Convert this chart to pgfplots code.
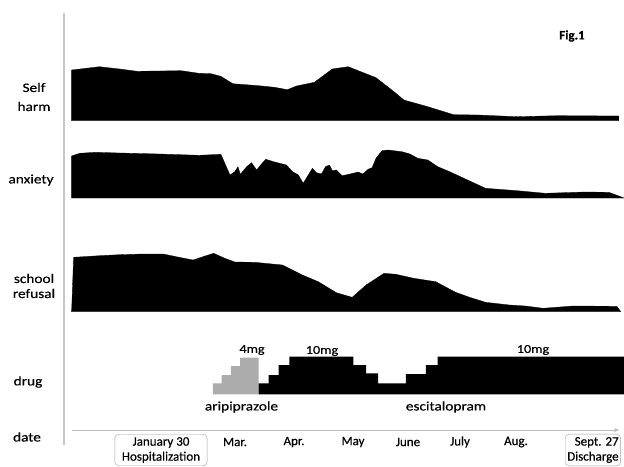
\documentclass[border=0pt]{standalone}
\usepackage{pgfplots}
\pgfplotsset{compat=1.18}
\usepackage{fontspec}
\setmainfont{Carlito}[FakeBold=0.4]
\newfontfamily\wide{Carlito}[FakeStretch=1.18, FakeBold=0.4]
\usetikzlibrary{arrows.meta}
\begin{document}
\fontsize{13}{16}\selectfont
\begin{tikzpicture}
\clip (0,0) rectangle (624pt,466pt);
\begin{axis}[
  width=624pt, height=466pt, scale only axis,
  xmin=0, xmax=624, ymin=0, ymax=466, y dir=reverse,
  axis lines=none, clip=false,
]
% vertical gray line
\addplot[gray!45, line width=1.6pt] coordinates {(64,13) (64,445)};
% self harm
\addplot[fill=black, draw=black, line width=0.3pt] coordinates {
(71.6,120.7) (71.6,70) (99.5,66.7) (119.4,69) (137.3,71.3) (181,70.7) (199,73.3)
(211,73.7) (220.8,76.3) (232.8,83.7) (258.7,85.7) (274.6,87.3) (287.3,89.7)
(296.5,86) (314.4,82.3) (332.3,69) (348.2,66.7) (376,77.7) (394,91.7) (403.9,100)
(427.8,106.7) (453.6,114.7) (477.5,115) (517.3,116.7) (557,115.7) (618.8,116)
(618.8,120.7)} -- cycle;
% anxiety
\addplot[fill=black, draw=black, line width=0.3pt] coordinates {
(71.6,198) (71.6,156) (79.6,153.3) (95.5,152.3) (119.4,153) (159.2,154) (199,155.3)
(220.9,154.3) (224.8,163.3) (230,175) (234.8,171.7) (238,166.7) (240.3,174.3)
(246.7,166.7) (251.5,162.7) (256.7,170) (260.6,165) (265.8,159.3) (274.6,162)
(286.5,165) (292.5,171.7) (298.4,175) (303.2,183.3) (307.2,176.7) (312.4,168.3)
(316.4,172.7) (321.5,174) (325.5,166.7) (329.5,165) (332.3,170.7) (336.3,170)
(342.2,175.7) (350.2,174) (358.1,172) (362.9,174) (368.1,169.3) (372.1,167.7)
(376,158.3) (382,150.7) (388,150) (401.9,151.7) (409.9,154) (417.8,158.3)
(427.8,160) (437.7,166.7) (449.7,171.7) (485.5,188.3) (517.3,190.7) (545.2,193.3)
(585,192) (608.8,192.3) (618.8,196) (624,198)} -- cycle;
% school refusal
\addplot[fill=black, draw=black, line width=0.3pt] coordinates {
(71.6,311.7) (73.6,257.3) (99.5,255.7) (119.4,254.7) (143.3,254) (163.2,254)
(179.1,257.3) (193,260) (202.9,256.7) (213.7,253.3) (224.8,258.3) (234.8,262)
(254.7,262.3) (282.5,265) (302.4,275) (318.3,281.7) (336.3,292.7) (352.2,297.3)
(366.1,285) (384,273.3) (395.9,274.3) (413.8,278.3) (435.7,281.7) (455.6,292.3)
(469.6,297.3) (485.5,302.3) (509.4,305) (525.3,306) (543.2,308.3) (573,306)
(616.8,306.3) (620.8,311.7)} -- cycle;
% aripiprazole (gray steps)
\addplot[fill=gray!65, draw=none] coordinates {
(212.9,394.3) (212.9,383.3) (221.6,383.3) (221.6,375) (230.8,375) (230.8,366)
(240,366) (240,357.7) (258.7,357.7) (258.7,394.3)} -- cycle;
% escitalopram (black steps)
\addplot[fill=black, draw=none] coordinates {
(258.7,394.3) (258.7,383.3) (268.6,383.3) (268.6,375) (278.6,375) (278.6,365)
(289.3,365) (289.3,356.7) (353.4,356.7) (353.4,365) (366.1,365) (366.1,373.3)
(378,373.3) (378,383.3) (405.9,383.3) (405.9,374) (425.8,374) (425.8,365)
(437.7,365) (437.7,356.7) (624,356.7) (624,394.3)} -- cycle;
% date axis
\addplot[gray!55, line width=0.8pt, -{Stealth[length=5pt,width=4pt]}] coordinates {(72,430) (619,430)};
% labels
\node[align=center, font=\wide\fontsize{13}{19}\selectfont] at (axis cs:34,97) {Self\\harm};
\node[font=\wide] at (axis cs:31,180) {anxiety};
\node[align=center, font=\wide\fontsize{13}{15}\selectfont] at (axis cs:34,286) {school\\refusal};
\node[font=\wide] at (axis cs:28,382) {drug};
\node[font=\wide] at (axis cs:27,437) {date};
\node[font=\fontsize{13}{15}\bfseries\selectfont] at (axis cs:572,36) {Fig.1};
\node[font=\wide\fontsize{12}{14}\selectfont] at (axis cs:252,350) {4mg};
\node[font=\wide\fontsize{12}{14}\selectfont] at (axis cs:322,351) {10mg};
\node[font=\wide\fontsize{12}{14}\selectfont] at (axis cs:533,350) {10mg};
\node[font=\wide] at (axis cs:241.5,407) {aripiprazole};
\node[font=\wide] at (axis cs:446,407) {escitalopram};
\node at (axis cs:235,442) {Mar.};
\node at (axis cs:294,442) {Apr.};
\node at (axis cs:353,442) {May};
\node at (axis cs:408,442) {June};
\node at (axis cs:460,442) {July};
\node at (axis cs:516,442) {Aug.};
\node[draw=gray!75, rounded corners=4pt, align=center, inner xsep=7pt, inner ysep=3pt,
  font=\fontsize{13}{15}\selectfont] at (axis cs:161,450) {January 30\\Hospitalization};
\node[draw=gray!75, rounded corners=4pt, align=right, inner xsep=2pt, inner ysep=3pt,
  anchor=west, font=\fontsize{13}{15}\selectfont] at (axis cs:565,450) {Sept. 27\\Discharge};
\end{axis}
\end{tikzpicture}
\end{document}
